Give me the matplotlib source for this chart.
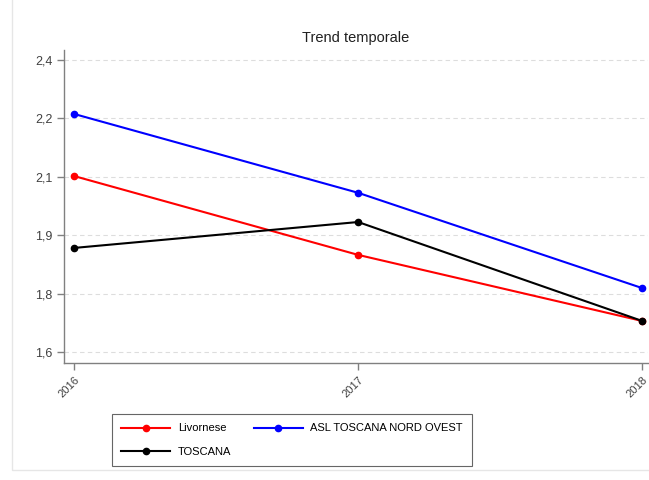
import matplotlib
matplotlib.use("Agg")
import matplotlib.pyplot as plt
from matplotlib.patches import Rectangle

plt.rcParams['font.family'] = ['Liberation Sans', 'DejaVu Sans']

years = [2016, 2017, 2018]
livornese = [2.082, 1.866, 1.685]
asl = [2.252, 2.036, 1.775]
toscana = [1.885, 1.956, 1.685]
yticks = [1.6, 1.76, 1.92, 2.08, 2.24, 2.4]
ytick_labels = ["1,6", "1,8", "1,9", "2,1", "2,2", "2,4"]
xtick_labels = ["2016", "2017", "2018"]

fig = plt.figure(figsize=(6.49, 4.80), dpi=100)
ax = fig.add_axes([64/649, 1-363/480, (648-64)/649, (363-50)/480])

# faint outer frame
fig.patches.append(Rectangle((12/649, 10/480), 1, 1, transform=fig.transFigure,
                             fill=False, edgecolor='#e6e6e6', lw=1.0))

h1, = ax.plot(years, livornese, color='#ff0000', marker='o', ms=4.5, lw=1.5, label='Livornese')
h2, = ax.plot(years, asl, color='#0000ff', marker='o', ms=4.5, lw=1.5, label='ASL TOSCANA NORD OVEST')
h3, = ax.plot(years, toscana, color='#000000', marker='o', ms=4.5, lw=1.5, label='TOSCANA')

ax.set_xlim(2015.965, 2018.02)
ax.set_ylim(1.57, 2.427)
ax.set_yticks(yticks)
ax.set_yticklabels(ytick_labels)
ax.set_xticks(years)
ax.set_xticklabels(xtick_labels, rotation=45, ha='right', rotation_mode='anchor')

for y in yticks:
    ax.axhline(y, color='#dddddd', lw=0.8, ls=(0, (4, 3)), zorder=0)

for s in ['top', 'right']:
    ax.spines[s].set_visible(False)
for s in ['left', 'bottom']:
    ax.spines[s].set_color('#808080')
    ax.spines[s].set_linewidth(1.0)
ax.tick_params(axis='both', colors='#808080', labelcolor='#404040', length=5, width=1.0)
ax.tick_params(axis='y', labelsize=9)
ax.tick_params(axis='x', labelsize=8)

ax.set_title('Trend temporale', fontsize=10.5, color='#202020', pad=6)

leg = fig.legend([h1, h3, h2], ['Livornese', 'TOSCANA', 'ASL TOSCANA NORD OVEST'],
                 loc='upper left', bbox_to_anchor=(112/649, 1-414/480),
                 ncol=2, fontsize=8, frameon=True, fancybox=False,
                 edgecolor='#404040', handlelength=4.4, handletextpad=0.7,
                 borderaxespad=0, columnspacing=2.0, borderpad=0.85, labelspacing=1.2)
leg.get_frame().set_linewidth(0.8)

fig.savefig('out.png', dpi=100)
